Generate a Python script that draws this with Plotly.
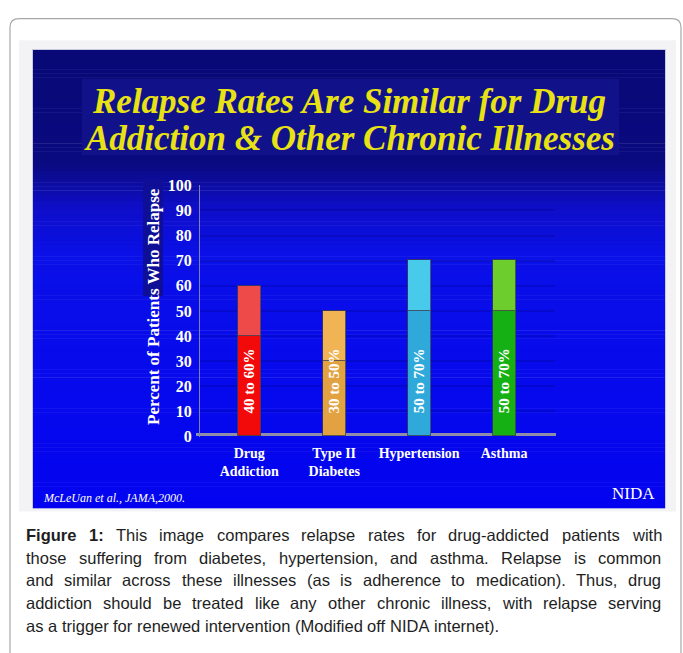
import plotly.graph_objects as go

W, H = 683, 653

# ---------------- data ----------------
categories = ["Drug Addiction", "Type II Diabetes", "Hypertension", "Asthma"]
tick_labels = ["Drug<br>Addiction", "Type II<br>Diabetes", "Hypertension", "Asthma"]
range_low = [40, 30, 50, 50]
range_high = [60, 50, 70, 70]
range_labels = ["40 to 60%", "30 to 50%", "50 to 70%", "50 to 70%"]
y_ticks = [0, 10, 20, 30, 40, 50, 60, 70, 80, 90, 100]
label_value = [22, 22, 22, 22]

title_lines = ["Relapse Rates Are Similar for Drug", "Addiction & Other Chronic Illnesses"]
y_title = "Percent of Patients Who Relapse"
source_text = "McLeUan et al., JAMA,2000."
brand_text = "NIDA"
caption_lines = [
    "Figure 1: This image compares relapse rates for drug-addicted patients with",
    "those suffering from diabetes, hypertension, and asthma. Relapse is common",
    "and similar across these illnesses (as is adherence to medication). Thus, drug",
    "addiction should be treated like any other chronic illness, with relapse serving",
    "as a trigger for renewed intervention (Modified off NIDA internet).",
]
caption_bold_words = 2  # "Figure 1:" is bold

low_colors = ["#f20a0a", "#e3a242", "#2fa9da", "#14b014"]
high_colors = ["#ef4a4a", "#f0b454", "#48cbea", "#6ccd2c"]

# ---------------- helpers ----------------
def px(x):
    return x / W

def py(y):
    return 1 - y / H

SERIF = "Liberation Serif"
SANS = "Liberation Sans"

# Arial / Liberation Sans advance widths (1/1000 em)
AW = {" ": 278, "!": 278, "(": 333, ")": 333, ",": 278, "-": 333, ".": 278, ":": 278,
      "0": 556, "1": 556, "2": 556, "3": 556, "4": 556, "5": 556, "6": 556, "7": 556, "8": 556, "9": 556,
      "a": 556, "b": 556, "c": 500, "d": 556, "e": 556, "f": 278, "g": 556, "h": 556, "i": 222,
      "j": 222, "k": 500, "l": 222, "m": 833, "n": 556, "o": 556, "p": 556, "q": 556, "r": 333,
      "s": 500, "t": 278, "u": 556, "v": 500, "w": 722, "x": 500, "y": 500, "z": 500,
      "A": 667, "B": 667, "C": 722, "D": 722, "E": 667, "F": 611, "G": 778, "H": 722, "I": 278,
      "J": 500, "K": 667, "L": 556, "M": 833, "N": 722, "O": 778, "P": 667, "Q": 778, "R": 722,
      "S": 667, "T": 611, "U": 722, "V": 667, "W": 944, "X": 667, "Y": 667, "Z": 611}
AWB = dict(AW)
AWB.update({"F": 611, "i": 278, "g": 611, "u": 611, "r": 389, "e": 556, "1": 556, ":": 333})

def text_w(s, size, bold=False):
    tbl = AWB if bold else AW
    return sum(tbl.get(ch, 556) for ch in s) * size / 1000.0

fig = go.Figure()

upper = [h - l for h, l in zip(range_high, range_low)]
fig.add_trace(go.Bar(x=categories, y=range_low, width=0.27,
                     marker=dict(color=low_colors, line=dict(color="rgba(60,60,80,0.8)", width=1)),
                     hoverinfo="skip", showlegend=False))
fig.add_trace(go.Bar(x=categories, y=upper, width=0.27,
                     marker=dict(color=high_colors, line=dict(color="rgba(60,60,80,0.8)", width=1)),
                     hoverinfo="skip", showlegend=False))

shapes = []
# outer rounded frame
r = 9
x0, y0, x1, y1 = px(10), py(11), px(681), py(700)
rx, ry = r / W, r / H
path = (f"M {x0},{y1} L {x0},{y0 - ry} Q {x0},{y0} {x0 + rx},{y0} "
        f"L {x1 - rx},{y0} Q {x1},{y0} {x1},{y0 - ry} L {x1},{y1}")
shapes.append(dict(type="path", xref="paper", yref="paper", path=path,
                   line=dict(color="#a8a8a8", width=1.2), layer="below"))
# light margin of slide image
shapes.append(dict(type="rect", xref="paper", yref="paper", x0=px(19), x1=px(676), y0=py(517), y1=py(33),
                   fillcolor="#f3f3f6", line=dict(width=0), layer="below"))
shapes.append(dict(type="rect", xref="paper", yref="paper", x0=px(32), x1=px(666), y0=py(514), y1=py(42),
                   fillcolor="#c9c9e2", line=dict(width=0), layer="below"))

# vertical gradient background
stops = [(43, (8, 8, 118)), (160, (10, 10, 128)), (205, (14, 14, 200)),
         (255, (10, 16, 232)), (513, (3, 3, 240))]

def grad(y):
    for (ya, ca), (yb, cb) in zip(stops[:-1], stops[1:]):
        if ya <= y <= yb:
            t = (y - ya) / (yb - ya)
            return "rgb(%d,%d,%d)" % tuple(round(a + (b - a) * t) for a, b in zip(ca, cb))
    return "rgb(%d,%d,%d)" % stops[-1][1]

step = 4
yy = 43
while yy < 513:
    yb = min(yy + step, 513)
    shapes.append(dict(type="rect", xref="paper", yref="paper", x0=px(33), x1=px(665),
                       y0=py(yb + 0.5), y1=py(yy), fillcolor=grad(yy + step / 2),
                       line=dict(width=0), layer="below"))
    yy = yb

# title box
shapes.append(dict(type="rect", xref="paper", yref="paper", x0=px(82), x1=px(619), y0=py(151), y1=py(73),
                   fillcolor="#11118a", line=dict(width=0), layer="below"))
# dark box behind axis title
shapes.append(dict(type="rect", xref="paper", yref="paper", x0=px(143), x1=px(163), y0=py(296), y1=py(176),
                   fillcolor="#0e0e96", line=dict(width=0), layer="below"))
# floor line
shapes.append(dict(type="line", xref="paper", yref="paper", x0=px(196), x1=px(556), y0=py(438), y1=py(438),
                   line=dict(color="#8e8eaa", width=3), layer="below"))

annotations = []
for i, t in enumerate(title_lines):
    annotations.append(dict(xref="paper", yref="paper", x=px(349), y=py(96 + 38 * i), text=f"<b><i>{t}</i></b>",
                            showarrow=False, xanchor="center", yanchor="middle",
                            font=dict(family=SERIF, size=35, color="#e8e214")))
annotations.append(dict(xref="paper", yref="paper", x=px(153), y=py(307), text=f"<b>{y_title}</b>",
                        textangle=-90, showarrow=False, xanchor="center", yanchor="middle",
                        font=dict(family=SERIF, size=17, color="white")))
for c, lab, v in zip(categories, range_labels, label_value):
    annotations.append(dict(xref="x", yref="y", x=c, y=v, text=f"<b>{lab}</b>", textangle=-90,
                            showarrow=False, xanchor="center", yanchor="middle",
                            font=dict(family=SERIF, size=15, color="white")))
annotations.append(dict(xref="paper", yref="paper", x=px(41), y=py(503), text=f"<i>{source_text}</i>",
                        showarrow=False, xanchor="left", yanchor="middle",
                        font=dict(family=SERIF, size=12, color="white")))
annotations.append(dict(xref="paper", yref="paper", x=px(657), y=py(498), text=brand_text,
                        showarrow=False, xanchor="right", yanchor="middle",
                        font=dict(family=SERIF, size=17, color="white")))

# justified caption (last line left aligned)
CAP_SIZE = 16.5
CAP_LEFT, CAP_RIGHT = 25, 660
for i, line in enumerate(caption_lines):
    words = line.split(" ")
    bold_flags = [(i == 0 and k < caption_bold_words) for k in range(len(words))]
    widths = [text_w(w, CAP_SIZE, b) for w, b in zip(words, bold_flags)]
    space = text_w(" ", CAP_SIZE)
    if i < len(caption_lines) - 1 and len(words) > 1:
        space = (CAP_RIGHT - CAP_LEFT - sum(widths)) / (len(words) - 1)
    xcur = CAP_LEFT
    for w, b, wd in zip(words, bold_flags, widths):
        annotations.append(dict(xref="paper", yref="paper", x=px(xcur), y=py(541 + 23.3 * i),
                                text=f"<b>{w}</b>" if b else w,
                                showarrow=False, xanchor="left", yanchor="middle", borderpad=0,
                                font=dict(family=SANS, size=CAP_SIZE, color="#1e1e1e")))
        xcur += wd + space

fig.update_layout(
    width=W, height=H, margin=dict(l=0, r=0, t=0, b=0),
    paper_bgcolor="white", plot_bgcolor="rgba(0,0,0,0)",
    barmode="stack", bargap=0,
    shapes=shapes, annotations=annotations,
    xaxis=dict(domain=[px(200), px(555)], range=[-0.58, 3.6], type="category",
               tickvals=categories, ticktext=tick_labels, showgrid=False, zeroline=False,
               showline=False, ticks="", ticklabelstandoff=6, layer="below traces",
               tickfont=dict(family=SERIF, size=14, color="white", weight="bold")),
    yaxis=dict(domain=[py(440), py(182)], range=[0, 100], tickvals=y_ticks,
               showgrid=True, gridcolor="rgba(0,0,110,0.22)", gridwidth=2, zeroline=False,
               showline=True, linecolor="#7e7ec0", linewidth=1, ticks="", ticklabelstandoff=4,
               layer="below traces",
               tickfont=dict(family=SERIF, size=16, color="white", weight="bold")),
)

fig.write_html("out.html")
